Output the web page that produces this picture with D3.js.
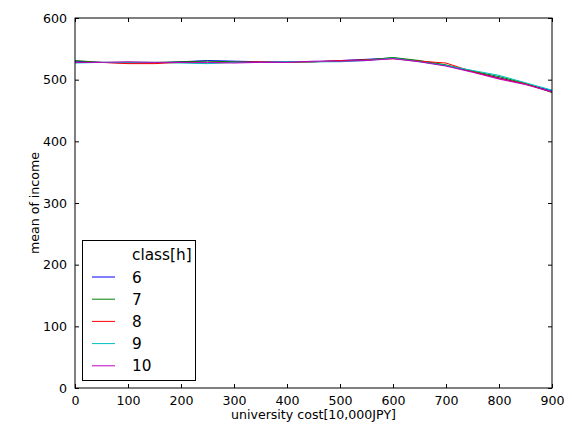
<html>
<head>
    <script src="https://d3js.org/d3.v7.min.js"></script>
    <style>
        body { margin: 0; background: #fff; }
        text { font-family: "DejaVu Sans", sans-serif; }
    </style>
</head>
<body>
<script>
    const cost = [0, 50, 100, 150, 200, 250, 300, 350, 400, 450, 500, 550, 600, 650, 700, 750, 800, 850, 900]
    const classes = ['6', '7', '8', '9', '10']
    const income6 = [530, 528, 527, 527, 529, 531, 530, 529, 529, 529, 531, 533, 535, 530, 523, 513, 503, 493, 482]
    const income7 = [531, 528, 528, 528, 529, 530, 529, 528, 528, 529, 530, 532, 536, 531, 524, 514, 505, 494, 479]
    const income8 = [528, 528, 526, 526, 528, 527, 528, 529, 528, 529, 531, 532, 534, 530, 527, 513, 502, 493, 480]
    const income9 = [527, 528, 528, 528, 527, 526, 528, 528, 529, 529, 529, 531, 535, 529, 523, 515, 507, 495, 483]
    const income10 = [528, 528, 529, 528, 528, 528, 527, 528, 528, 530, 530, 531, 534, 529, 522, 512, 501, 492, 480]
    const series = [income6, income7, income8, income9, income10]
    const colors = ['#0000ff', '#008000', '#ff0000', '#00bfbf', '#bf00bf']
    const xTicks = [0, 100, 200, 300, 400, 500, 600, 700, 800, 900]
    const yTicks = [0, 100, 200, 300, 400, 500, 600]

    const mLeft = 75, mRight = 552, mTop = 18, mBottom = 388

    const svg = d3.select('body').append('svg')
        .attr('width', 572)
        .attr('height', 426)

    const x = d3.scaleLinear().domain([0, 900]).range([mLeft, mRight])
    const y = d3.scaleLinear().domain([0, 600]).range([mBottom, mTop])

    const line = d3.line().x((d, i) => x(cost[i])).y(d => y(d))

    const gLines = svg.append('g').attr('fill', 'none').attr('stroke-width', 1)
    series.forEach((s, k) => {
        gLines.append('path')
            .attr('d', line(s))
            .attr('stroke', colors[k])
    })

    // axes, ticks inside on all four sides
    const tick = 4
    svg.append('g').attr('transform', `translate(0,${mBottom})`)
        .call(d3.axisBottom(x).tickValues(xTicks).tickSizeInner(-tick).tickSizeOuter(0).tickPadding(8))
    svg.append('g').attr('transform', `translate(0,${mTop})`)
        .call(d3.axisTop(x).tickValues(xTicks).tickSizeInner(-tick).tickSizeOuter(0).tickFormat(''))
    svg.append('g').attr('transform', `translate(${mLeft},0)`)
        .call(d3.axisLeft(y).tickValues(yTicks).tickSizeInner(-tick).tickSizeOuter(0).tickPadding(8))
    svg.append('g').attr('transform', `translate(${mRight},0)`)
        .call(d3.axisRight(y).tickValues(yTicks).tickSizeInner(-tick).tickSizeOuter(0).tickFormat(''))

    svg.selectAll('.domain').remove()
    svg.selectAll('.tick line').attr('stroke', '#000')
    svg.selectAll('.tick text').attr('font-size', 12.6).attr('fill', '#000')
        .style('font-family', '"DejaVu Sans", sans-serif')

    svg.append('rect')
        .attr('x', mLeft).attr('y', mTop)
        .attr('width', mRight - mLeft).attr('height', mBottom - mTop)
        .attr('fill', 'none').attr('stroke', '#000').attr('stroke-width', 1)

    svg.append('text')
        .attr('x', (mLeft + mRight) / 2).attr('y', 419)
        .attr('text-anchor', 'middle').attr('font-size', 12.6)
        .text('university cost[10,000JPY]')

    svg.append('text')
        .attr('transform', `translate(39,${(mTop + mBottom) / 2}) rotate(-90)`)
        .attr('text-anchor', 'middle').attr('font-size', 12.6)
        .text('mean of income')

    // legend
    const legend = svg.append('g')
    legend.append('rect')
        .attr('x', 82.5).attr('y', 240.5).attr('width', 113).attr('height', 140)
        .attr('fill', '#fff').attr('stroke', '#000').attr('stroke-width', 1)
    legend.append('text')
        .attr('x', 132).attr('y', 260).attr('font-size', 15.3)
        .text('class[h]')
    classes.forEach((c, i) => {
        const ly = 277 + i * 22.2
        legend.append('line')
            .attr('x1', 92).attr('x2', 115).attr('y1', ly).attr('y2', ly)
            .attr('stroke', colors[i]).attr('stroke-width', 1)
        legend.append('text')
            .attr('x', 132).attr('y', ly + 5.5).attr('font-size', 15.3)
            .text(c)
    })
</script>
</body>
</html>
